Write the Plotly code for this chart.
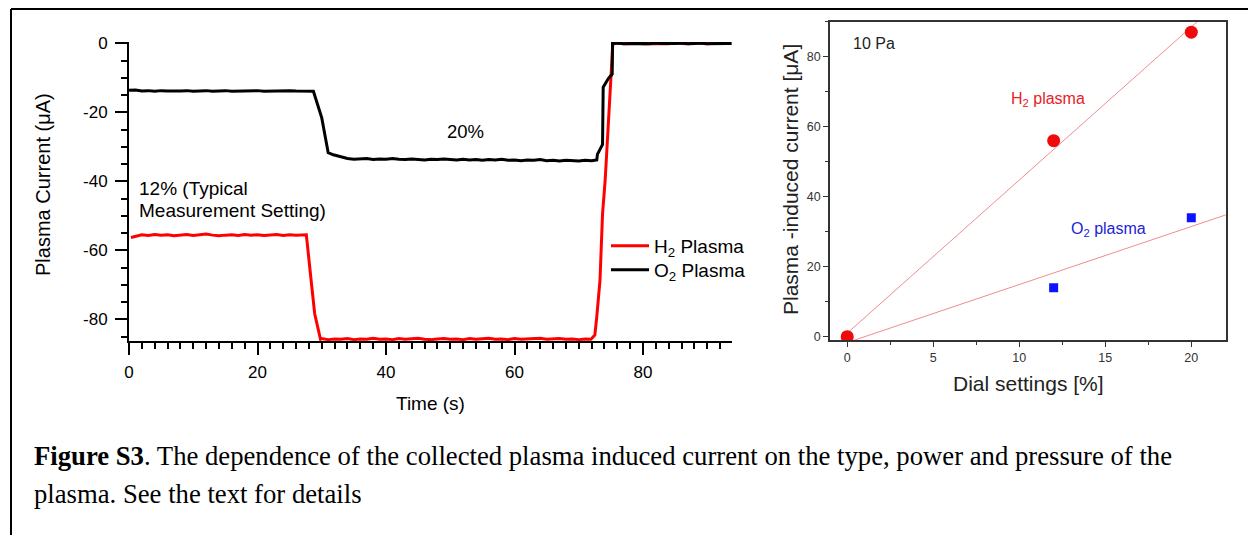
import numpy as np
import plotly.graph_objects as go

# ---------------- Left panel data: plasma current vs time ----------------
h2_time = [0.3, 1, 2, 3, 4, 5, 6, 7, 8, 9, 10, 11, 12, 13, 14, 15, 16, 17, 18, 19, 20,
           21, 22, 23, 24, 25, 26, 27, 27.6, 28.4, 28.9, 29.8,
           30, 31, 32, 33, 34, 35, 36, 37, 38, 39, 40, 41, 42, 43, 44, 45, 46, 47, 48, 49,
           50, 51, 52, 53, 54, 55, 56, 57, 58, 59, 60, 61, 62, 63, 64, 65, 66, 67, 68, 69,
           70, 71, 71.9, 72.5, 72.8, 73.3, 73.7, 74.1, 74.7, 75.3,
           76, 77, 78, 79, 80, 81, 82, 83, 84, 85, 86, 87, 88, 89, 90, 91, 92, 93, 93.8]
h2_current = [-56.3, -55.9, -55.5, -55.7, -55.4, -55.6, -55.5, -55.8, -55.6, -55.4, -55.7,
              -55.5, -55.3, -55.6, -55.8, -55.6, -55.5, -55.7, -55.4, -55.6, -55.5,
              -55.7, -55.6, -55.4, -55.7, -55.5, -55.6, -55.4, -55.5, -69.7, -78.4, -85.8,
              -85.6, -85.9, -85.7, -85.8, -85.6, -85.9, -85.7, -85.8, -85.5, -85.8, -85.7,
              -85.9, -85.6, -85.8, -85.7, -85.5, -85.8, -85.9, -85.7, -85.6, -85.8, -85.7,
              -85.9, -85.6, -85.8, -85.7, -85.5, -85.8, -85.7, -85.9, -85.6, -85.8, -85.7,
              -85.8, -85.5, -85.8, -85.7, -85.6, -85.8, -85.7, -85.9, -85.7, -85.8,
              -84.6, -79.3, -68.7, -49.4, -39.9, -20.0, -0.2,
              0.1, -0.1, 0.0, 0.1, -0.1, 0.0, 0.1, 0.0, -0.1, 0.1, 0.0, -0.1, 0.1, 0.0,
              -0.1, 0.1, 0.0, 0.1, 0.0]

o2_time = [0, 1, 2, 3, 4, 5, 6, 7, 8, 9, 10, 11, 12, 13, 14, 15, 16, 17, 18, 19, 20,
           21, 22, 23, 24, 25, 26, 27, 28.7, 30.0, 31.0, 31.8, 33.4,
           34, 35, 36, 37, 38, 39, 40, 41, 42, 43, 44, 45, 46, 47, 48, 49, 50, 51, 52, 53,
           54, 55, 56, 57, 58, 59, 60, 61, 62, 63, 64, 65, 66, 67, 68, 69, 70, 71, 72, 72.8,
           72.9, 73.7, 73.8, 74.6, 75.2, 75.25,
           76, 77, 78, 79, 80, 81, 82, 83, 84, 85, 86, 87, 88, 89, 90, 91, 92, 93, 93.8]
o2_current = [-13.6, -13.5, -13.8, -13.7, -13.9, -13.7, -13.8, -13.9, -13.8, -13.7, -13.9,
              -13.8, -13.7, -13.9, -13.8, -13.7, -13.9, -13.8, -13.9, -13.8, -13.7,
              -13.9, -13.8, -13.9, -13.8, -13.7, -13.8, -13.9, -13.9, -21.6, -31.7, -32.3, -33.1,
              -33.4, -33.6, -33.5, -33.4, -33.7, -33.5, -33.6, -33.4, -33.6, -33.7, -33.5,
              -33.6, -33.8, -33.6, -33.7, -33.5, -33.7, -33.8, -33.6, -33.8, -33.7, -33.9,
              -33.7, -33.8, -33.6, -33.9, -33.8, -34.0, -33.8, -33.9, -33.7, -34.0, -33.9,
              -34.1, -33.9, -34.0, -34.1, -33.9, -34.0, -33.8,
              -32.2, -29.3, -12.7, -10.2, -8.9, 0.0,
              0.1, -0.1, 0.0, 0.1, 0.0, -0.1, 0.1, 0.0, -0.1, 0.0, 0.1, -0.1, 0.0, 0.1,
              -0.1, 0.0, 0.1, 0.0, 0.0]

left_yticks = [0, -20, -40, -60, -80]
left_yticklabels = ["0", "-20", "-40", "-60", "-80"]
left_xticks = [0, 20, 40, 60, 80]

# ---------------- Right panel data: current vs dial setting ----------------
dial_setting = [0, 12, 20]
h2_induced = [0, 56, 87]
o2_induced = [0, 14, 34]
right_xticks = [0, 5, 10, 15, 20]
right_yticks = [0, 20, 40, 60, 80]

W, H = 1248, 535
def px(x):
    return x / W
def py(y):
    return 1 - y / H

fig = go.Figure()

fig.add_trace(go.Scatter(x=h2_time, y=h2_current, mode="lines", name="H<sub>2</sub> Plasma",
                         line=dict(color="#ff0000", width=3), xaxis="x", yaxis="y", legend="legend"))
fig.add_trace(go.Scatter(x=o2_time, y=o2_current, mode="lines", name="O<sub>2</sub> Plasma",
                         line=dict(color="#000000", width=3), xaxis="x", yaxis="y", legend="legend2"))

# linear fits for right panel
h2_fit = np.polyfit(dial_setting, h2_induced, 1)
o2_fit = np.polyfit(dial_setting, o2_induced, 1)
fit_x = np.array([0, 23])
fig.add_trace(go.Scatter(x=fit_x, y=np.polyval(h2_fit, fit_x), mode="lines", showlegend=False,
                         line=dict(color="#f08c8c", width=1), xaxis="x2", yaxis="y2"))
fig.add_trace(go.Scatter(x=fit_x - 0.5, y=np.polyval(o2_fit, fit_x - 0.5), mode="lines", showlegend=False,
                         line=dict(color="#f08c8c", width=1), xaxis="x2", yaxis="y2"))
fig.add_trace(go.Scatter(x=dial_setting, y=o2_induced, mode="markers", showlegend=False,
                         marker=dict(symbol="square", size=9, color="#0a14ff"), xaxis="x2", yaxis="y2"))
fig.add_trace(go.Scatter(x=dial_setting, y=h2_induced, mode="markers", showlegend=False,
                         marker=dict(symbol="circle", size=13, color="#f00a0a"), xaxis="x2", yaxis="y2"))

sans = "Liberation Sans, Arial, sans-serif"
tickfont_l = dict(family=sans, size=17, color="#000")
legfont = dict(family=sans, size=19, color="#000")
small = dict(family=sans, size=12.5, color="#333")

leg_common = dict(xanchor="left", yanchor="top", itemwidth=38, font=legfont,
                  bgcolor="rgba(0,0,0,0)", tracegroupgap=0)

fig.update_layout(
    width=W, height=H,
    margin=dict(l=0, r=0, t=0, b=0, autoexpand=False),
    paper_bgcolor="white", plot_bgcolor="white",
    showlegend=True,
    legend=dict(x=px(606), y=py(227), **leg_common),
    legend2=dict(x=px(606), y=py(251), **leg_common),
    xaxis=dict(domain=[px(129), px(731.7)], range=[0, 93.8], anchor="y", automargin=False,
               showline=True, linecolor="#000", linewidth=2, showgrid=False, zeroline=False,
               layer="below traces",
               ticks="outside", ticklen=12, tickwidth=2, tickcolor="#000", ticklabelstandoff=3,
               tickvals=left_xticks, tickfont=tickfont_l,
               minor=dict(dtick=2, ticks="outside", ticklen=6, tickwidth=2, tickcolor="#000", showgrid=False)),
    yaxis=dict(domain=[py(341), py(42)], range=[-86.3, 0.4], anchor="x", automargin=False,
               showline=True, linecolor="#000", linewidth=2, showgrid=False, zeroline=False,
               layer="below traces",
               ticks="outside", ticklen=12, tickwidth=2, tickcolor="#000", ticklabelstandoff=4,
               tickvals=left_yticks, ticktext=left_yticklabels, tickfont=tickfont_l,
               minor=dict(dtick=5, tick0=0, ticks="outside", ticklen=6, tickwidth=2, tickcolor="#000", showgrid=False)),
    xaxis2=dict(domain=[px(830), px(1225.7)], range=[-1.0, 22.0], anchor="y2", automargin=False,
                showline=True, mirror=True, linecolor="#333", linewidth=1.5, showgrid=False, zeroline=False,
                ticks="outside", ticklen=5, tickwidth=1, tickcolor="#333",
                tickvals=right_xticks, tickfont=small,
                minor=dict(dtick=2.5, tick0=0, ticks="outside", ticklen=3, tickwidth=1, tickcolor="#333", showgrid=False)),
    yaxis2=dict(domain=[py(340), py(21.7)], range=[-0.95, 90], anchor="x2", automargin=False,
                showline=True, mirror=True, linecolor="#333", linewidth=1.5, showgrid=False, zeroline=False,
                ticks="outside", ticklen=5, tickwidth=1, tickcolor="#333",
                tickvals=right_yticks, tickfont=small,
                minor=dict(dtick=10, tick0=0, ticks="outside", ticklen=3, tickwidth=1, tickcolor="#333", showgrid=False)),
)

ann = []
def add_text(text, x, y, size=16, color="#000", xanchor="center", yanchor="middle", angle=0,
             family=sans, align="left"):
    ann.append(dict(text=text, x=px(x), y=py(y), xref="paper", yref="paper", showarrow=False,
                    xanchor=xanchor, yanchor=yanchor, textangle=angle, align=align,
                    font=dict(family=family, size=size, color=color)))

add_text("Plasma Current (\u03bcA)", 43, 185, size=20, angle=-90)
add_text("Time (s)", 430, 403, size=19)
add_text("12% (Typical", 137, 188, size=19, xanchor="left")
add_text("Measurement Setting)", 137, 210, size=19, xanchor="left")
add_text("20%", 465, 131, size=18.5)

add_text("Plasma -induced current [\u03bcA]", 790, 180, size=21, color="#222", angle=-90)
add_text("Dial settings [%]", 1028, 384, size=21, color="#222")
add_text("10 Pa", 851, 44, size=16, color="#222", xanchor="left")
add_text("H<sub>2</sub> plasma", 1009, 99, size=16, color="#e8202a", xanchor="left")
add_text("O<sub>2</sub> plasma", 1069, 229, size=16, color="#2323d8", xanchor="left")

serif = "Liberation Serif, Times New Roman, serif"
add_text("<b>Figure S3</b>. The dependence of the collected plasma induced current on the type, power and pressure of the",
         32, 456, size=26.7, family=serif, xanchor="left")
add_text("plasma. See the text for details", 32, 494, size=26.7, family=serif, xanchor="left")

fig.update_layout(annotations=ann)

fig.update_layout(shapes=[
    dict(type="line", xref="paper", yref="paper", x0=px(11), x1=1, y0=py(9), y1=py(9),
         line=dict(color="#000", width=2)),
    dict(type="line", xref="paper", yref="paper", x0=px(11), x1=px(11), y0=py(9), y1=0,
         line=dict(color="#000", width=2)),
])

fig.write_html("out.html")
